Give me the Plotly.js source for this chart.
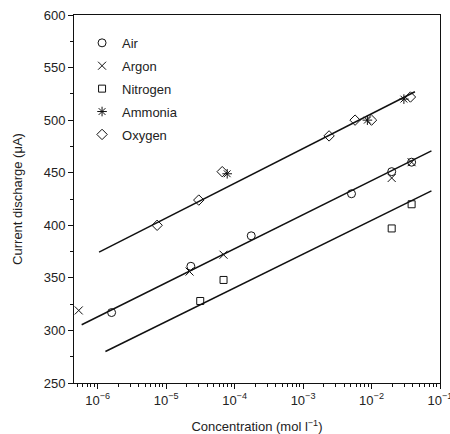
<!DOCTYPE html>
<html>
<head>
<meta charset="utf-8">
<script src="https://cdn.plot.ly/plotly-3.0.1.min.js"></script>
<style>html,body{margin:0;padding:0;background:#fff;}#chart{width:450px;height:434px;}</style>
</head>
<body>
<div id="chart"></div>
<script>
// Data
var airX = [1.6e-6, 2.3e-5, 1.75e-4, 5.1e-3, 1.97e-2, 3.85e-2];
var airY = [317, 361, 390, 430, 451, 460];

var argonX = [5.3e-7, 2.2e-5, 6.9e-5, 1.97e-2, 3.85e-2];
var argonY = [319, 356, 372, 445, 460];

var nitrogenX = [3.15e-5, 6.9e-5, 1.97e-2, 3.85e-2];
var nitrogenY = [328, 348, 397, 420];

var ammoniaX = [7.8e-5, 8.7e-3, 2.97e-2];
var ammoniaY = [449, 500, 520];

var oxygenX = [7.4e-6, 3.0e-5, 6.6e-5, 2.4e-3, 5.75e-3, 1.0e-2, 3.7e-2];
var oxygenY = [400, 424, 451, 485, 500, 500, 522];

// Fitted lines (start and end points)
var fitTopX = [1.05e-6, 4.3e-2];
var fitTopY = [374.5, 527];
var fitMidX = [5.85e-7, 7.5e-2];
var fitMidY = [305.4, 470.8];
var fitBotX = [1.3e-6, 7.5e-2];
var fitBotY = [280, 432.7];

var seriesNames = ['Air', 'Argon', 'Nitrogen', 'Ammonia', 'Oxygen'];

var yTickVals = [250, 300, 350, 400, 450, 500, 550, 600];
var xTickVals = [1e-6, 1e-5, 1e-4, 1e-3, 1e-2, 1e-1];
var xTickText = ['10<sup>\u22126</sup>', '10<sup>\u22125</sup>', '10<sup>\u22124</sup>', '10<sup>\u22123</sup>', '10<sup>\u22122</sup>', '10<sup>\u22121</sup>'];

var black = '#111';
var lineStyle = {color: black, width: 1.5};

function pts(x, y, name, symbol, size, group) {
  return {
    x: x, y: y, name: name, type: 'scatter', mode: 'markers',
    legendgroup: group,
    marker: {symbol: symbol, size: size, color: black, line: {color: black, width: 1}},
    hoverinfo: 'skip'
  };
}
function fit(x, y) {
  return {x: x, y: y, type: 'scatter', mode: 'lines', line: lineStyle, showlegend: false, hoverinfo: 'skip'};
}

var data = [
  fit(fitTopX, fitTopY),
  fit(fitMidX, fitMidY),
  fit(fitBotX, fitBotY),
  pts(airX, airY, seriesNames[0], 'circle-open', 8, 'g1'),
  pts(argonX, argonY, seriesNames[1], 'x-thin-open', 8, 'g2'),
  pts(nitrogenX, nitrogenY, seriesNames[2], 'square-open', 7, 'g3'),
  pts(ammoniaX, ammoniaY, seriesNames[3], 'asterisk-open', 8, 'g4'),
  pts(oxygenX, oxygenY, seriesNames[4], 'diamond-open', 8, 'g5')
];

var font = {family: 'Liberation Sans, Arial, sans-serif', size: 13, color: '#222'};

var layout = {
  width: 450, height: 434,
  margin: {l: 74, r: 10, t: 15, b: 51},
  paper_bgcolor: '#fff', plot_bgcolor: '#fff',
  font: font,
  showlegend: true,
  legend: {
    x: 0.022, y: 0.965, xanchor: 'left', yanchor: 'top',
    bgcolor: 'rgba(0,0,0,0)', borderwidth: 0,
    font: {family: font.family, size: 13, color: '#222'},
    tracegroupgap: 3, itemclick: false
  },
  xaxis: {
    type: 'log',
    range: [-6.345, -1],
    tickvals: xTickVals, ticktext: xTickText,
    ticklabeloverflow: 'allow',
    ticks: 'outside', ticklen: 5, tickwidth: 1, tickcolor: black,
    minor: {dtick: 'D1', ticks: 'outside', ticklen: 3, tickwidth: 1, tickcolor: black, showgrid: false},
    showgrid: false, zeroline: false,
    showline: true, linecolor: black, linewidth: 1, mirror: true,
    tickfont: {family: font.family, size: 13, color: '#222'},
    title: {text: 'Concentration (mol l<sup>\u22121</sup>)', font: {family: font.family, size: 13, color: '#222'}, standoff: 15}
  },
  yaxis: {
    range: [250, 600],
    tickvals: yTickVals,
    ticks: 'outside', ticklen: 5, tickwidth: 1, tickcolor: black,
    minor: {dtick: 25, ticks: 'outside', ticklen: 3, tickwidth: 1, tickcolor: black, showgrid: false},
    showgrid: false, zeroline: false,
    showline: true, linecolor: black, linewidth: 1, mirror: true,
    tickfont: {family: font.family, size: 13, color: '#222'},
    title: {text: 'Current discharge (\u03bcA)', font: {family: font.family, size: 13, color: '#222'}, standoff: 18}
  }
};

Plotly.newPlot('chart', data, layout, {staticPlot: true, displayModeBar: false});
</script>
</body>
</html>
